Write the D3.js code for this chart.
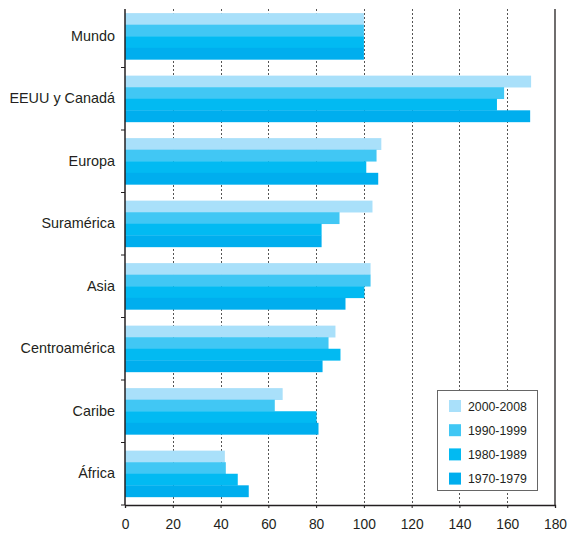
<!DOCTYPE html>
<html>
<head>
<meta charset="utf-8">
<script src="https://cdn.jsdelivr.net/npm/d3@7"></script>
<style>
  body { margin: 0; background: #fff; }
  text { font-family: "Liberation Sans", Arial, sans-serif; fill: #231f20; }
</style>
</head>
<body>
<div id="chart"></div>
<script>
// regions, top to bottom
const regions = ["Mundo", "EEUU y Canadá", "Europa", "Suramérica", "Asia", "Centroamérica", "Caribe", "África"];
const periods = ["2000-2008", "1990-1999", "1980-1989", "1970-1979"];
const periodColors = ["#a9e0fa", "#41c7f4", "#02baf2", "#00aeee"];

// index values per period, same order as regions
const v2000 = [100, 170, 107.3, 103.6, 102.8, 88.1, 66, 41.8];
const v1990 = [100, 158.7, 105.3, 89.8, 102.8, 85.2, 62.7, 42.2];
const v1980 = [100, 155.7, 101, 82.3, 100.2, 90.2, 80.2, 47.2];
const v1970 = [100, 169.6, 106, 82.3, 92.3, 82.7, 81, 51.8];

const xTicks = [0, 20, 40, 60, 80, 100, 120, 140, 160, 180];

const width = 569, height = 533;
const svg = d3.select("#chart").append("svg")
  .attr("width", width)
  .attr("height", height);

const margin = { top: 5, left: 125, right: 14, bottom: 28 };
const plotTop = 9;

const series = [v2000, v1990, v1980, v1970];
const data = [];
regions.forEach((r, i) => {
  periods.forEach((p, j) => {
    data.push({ region: r, period: p, value: series[j][i] });
  });
});

const xScale = d3.scaleLinear()
  .domain([0, 180])
  .range([margin.left, width - margin.right]);

const yScale = d3.scaleBand()
  .domain(regions)
  .range([margin.top, height - margin.bottom])
  .paddingInner(0.26)
  .paddingOuter(0.13);

const ySub = d3.scaleBand()
  .domain(periods)
  .range([0, yScale.bandwidth()]);

const colorScale = d3.scaleOrdinal()
  .domain(periods)
  .range(periodColors);

const bottom = height - margin.bottom;

// dotted grid lines
svg.append("g")
  .selectAll("line")
  .data(xTicks.slice(1, -1))
  .enter()
  .append("line")
    .attr("x1", d => Math.round(xScale(d)) + 0.5)
    .attr("x2", d => Math.round(xScale(d)) + 0.5)
    .attr("y1", plotTop)
    .attr("y2", bottom)
    .attr("stroke", "#555")
    .attr("stroke-width", 1)
    .attr("stroke-dasharray", "2,2");

// bars
svg.selectAll(".bar")
  .data(data)
  .enter()
  .append("rect")
    .attr("class", "bar")
    .attr("x", xScale(0))
    .attr("y", d => yScale(d.region) + ySub(d.period))
    .attr("width", d => xScale(d.value) - xScale(0))
    .attr("height", ySub.bandwidth() + 0.3)
    .attr("fill", d => colorScale(d.period));

// x axis
const xAxis = svg.append("g")
  .attr("transform", `translate(0,${bottom})`)
  .call(d3.axisBottom(xScale).tickValues(xTicks).tickSize(3).tickPadding(11));
xAxis.select(".domain").attr("stroke", "#231f20").attr("stroke-width", 1.3);
xAxis.selectAll(".tick line").attr("stroke", "#231f20");
xAxis.selectAll("text").style("font-size", "13.8px").style("font-family", "Liberation Sans, Arial, sans-serif").attr("fill", "#231f20");

// y axis labels
const yAxis = svg.append("g")
  .attr("transform", `translate(${margin.left},0)`)
  .call(d3.axisLeft(yScale).tickSize(0).tickPadding(10));
yAxis.select(".domain").remove();
yAxis.selectAll("text").style("font-size", "14.4px").style("font-family", "Liberation Sans, Arial, sans-serif").attr("fill", "#231f20");

// left axis line and boundary ticks
svg.append("line")
  .attr("x1", margin.left).attr("x2", margin.left)
  .attr("y1", plotTop).attr("y2", bottom)
  .attr("stroke", "#231f20").attr("stroke-width", 1.5);

svg.append("g")
  .selectAll("line")
  .data(regions)
  .enter()
  .append("line")
    .attr("x1", margin.left - 4)
    .attr("x2", margin.left)
    .attr("y1", d => yScale(d) + yScale.bandwidth() + yScale.step() * 0.13)
    .attr("y2", d => yScale(d) + yScale.bandwidth() + yScale.step() * 0.13)
    .attr("stroke", "#231f20");

// right border
svg.append("line")
  .attr("x1", xScale(180)).attr("x2", xScale(180))
  .attr("y1", plotTop).attr("y2", bottom)
  .attr("stroke", "#231f20").attr("stroke-width", 1.3);

// legend
const legend = svg.append("g")
  .attr("transform", "translate(437.5,390.5)");

legend.append("rect")
  .attr("width", 100)
  .attr("height", 100)
  .attr("fill", "#fff")
  .attr("stroke", "#666")
  .attr("stroke-width", 1);

legend.selectAll(".swatch")
  .data(periods)
  .enter()
  .append("rect")
    .attr("class", "swatch")
    .attr("x", 11.5)
    .attr("y", (d, i) => 9.5 + i * 24.2)
    .attr("width", 12)
    .attr("height", 12)
    .attr("fill", d => colorScale(d));

legend.selectAll(".label")
  .data(periods)
  .enter()
  .append("text")
    .attr("class", "label")
    .attr("x", 30.5)
    .attr("y", (d, i) => 20 + i * 24.2)
    .style("font-size", "12.3px")
    .text(d => d);
</script>
</body>
</html>
